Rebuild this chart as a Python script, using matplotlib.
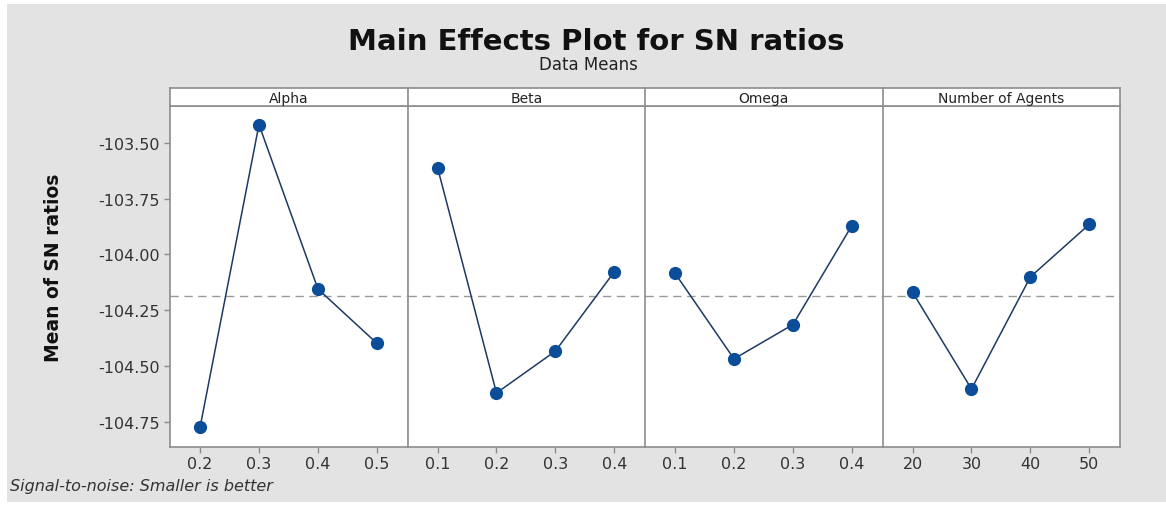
import numpy as np
import matplotlib
matplotlib.use("Agg")
import matplotlib.pyplot as plt
from matplotlib.patches import Rectangle

# factor levels and mean SN ratio at each level
factors = ["Alpha", "Beta", "Omega", "Number of Agents"]
alpha_levels = ["0.2", "0.3", "0.4", "0.5"]
alpha_sn = [-104.776, -103.418, -104.155, -104.399]
beta_levels = ["0.1", "0.2", "0.3", "0.4"]
beta_sn = [-103.611, -104.622, -104.434, -104.078]
omega_levels = ["0.1", "0.2", "0.3", "0.4"]
omega_sn = [-104.085, -104.469, -104.315, -103.871]
agents_levels = ["20", "30", "40", "50"]
agents_sn = [-104.170, -104.604, -104.101, -103.865]

levels = [alpha_levels, beta_levels, omega_levels, agents_levels]
means = [alpha_sn, beta_sn, omega_sn, agents_sn]
grand_mean = np.mean(np.concatenate(means))

yticks = [-103.50, -103.75, -104.00, -104.25, -104.50, -104.75]

W, H = 1166, 506
fig = plt.figure(figsize=(W / 100, H / 100), dpi=100, facecolor="white")
fig.patches.append(Rectangle((7 / W, 3 / H), 1 - 7 / W, 1 - 8 / H,
                             transform=fig.transFigure, facecolor="#e3e3e3",
                             edgecolor="none", zorder=-10))

left, right = 170, 1120
top, strip_top, bottom = 106.7, 89.3, 447.7
pw = (right - left) / 4

line_col = "#1d3a63"
dot_col = "#0b4d99"
spine_col = "#8c8c8c"

for i in range(4):
    x0 = (left + i * pw) / W
    ax = fig.add_axes([x0, (H - bottom) / H, pw / W, (bottom - top) / H])
    ax.set_facecolor("white")
    xs = np.arange(1, 5)
    ax.axhline(grand_mean, color="#9a9a9a", lw=1, ls=(0, (6, 4)), zorder=1)
    ax.plot(xs, means[i], color=line_col, lw=1.1, zorder=2)
    ax.plot(xs, means[i], "o", color=dot_col, ms=8.5, zorder=3)
    ax.set_xlim(0.49, 4.52)
    ax.set_ylim(-104.863, -103.333)
    ax.set_xticks(xs)
    ax.set_xticklabels(levels[i])
    ax.set_yticks(yticks)
    if i == 0:
        ax.set_yticklabels(["%.2f" % v for v in yticks])
    else:
        ax.tick_params(axis="y", left=False, labelleft=False)
    ax.tick_params(axis="both", colors=spine_col, labelcolor="#333333",
                   labelsize=11.5, length=4, width=1)
    ax.tick_params(axis="x", pad=3)
    for s in ax.spines.values():
        s.set_color(spine_col)
        s.set_linewidth(1.2)
    if i < 3:
        ax.spines["right"].set_visible(False)

    # strip header with the factor name
    sx = fig.add_axes([x0, (H - top) / H, pw / W, (top - strip_top) / H])
    sx.set_facecolor("white")
    sx.set_xticks([])
    sx.set_yticks([])
    for s in sx.spines.values():
        s.set_color(spine_col)
        s.set_linewidth(1.2)
    if i < 3:
        sx.spines["right"].set_visible(False)
    sx.text(0.5, 0.45, factors[i], ha="center", va="center", fontsize=10,
            color="#222222", transform=sx.transAxes)

fig.text(596 / W, 1 - 42 / H, "Main Effects Plot for SN ratios", ha="center",
         va="center", fontsize=21, fontweight="bold", color="#111111")
fig.text(588 / W, 1 - 65 / H, "Data Means", ha="center", va="center",
         fontsize=12, color="#222222")
fig.text(54 / W, 1 - 268 / H, "Mean of SN ratios", rotation=90, ha="center",
         va="center", fontsize=13.5, fontweight="bold", color="#111111")
fig.text(10 / W, 1 - 487 / H, "Signal-to-noise: Smaller is better", ha="left",
         va="center", fontsize=11.5, style="italic", color="#333333")

fig.savefig("out.png", dpi=100, facecolor=fig.get_facecolor())
